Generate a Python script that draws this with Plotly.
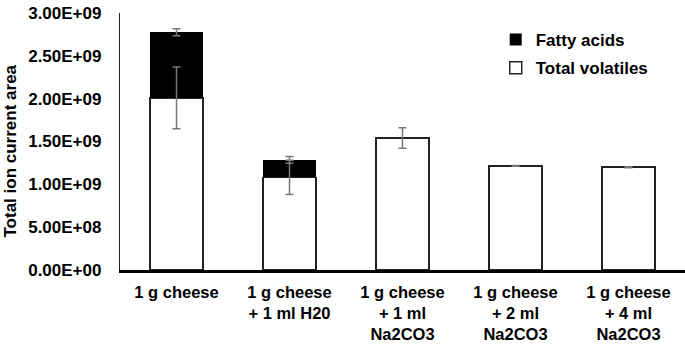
import plotly.graph_objects as go

categories = ["1 g cheese", "1 g cheese<br>+ 1 ml H20", "1 g cheese<br>+ 1 ml<br>Na2CO3",
              "1 g cheese<br>+ 2 ml<br>Na2CO3", "1 g cheese<br>+ 4 ml<br>Na2CO3"]
total_volatiles = [2.01e9, 1.08e9, 1.54e9, 1.215e9, 1.20e9]
total_volatiles_err = [0.36e9, 0.20e9, 0.12e9, 0.004e9, 0.006e9]
fatty_acids = [0.765e9, 0.205e9, 0, 0, 0]
fatty_acids_err = [0.04e9, 0.04e9, None, None, None]
tick_vals = [0, 5e8, 1e9, 1.5e9, 2e9, 2.5e9, 3e9]
tick_text = ["0.00E+00", "5.00E+08", "1.00E+09", "1.50E+09", "2.00E+09", "2.50E+09", "3.00E+09"]

FONT = "Liberation Sans, Arial, sans-serif"
idx = list(range(len(categories)))

fig = go.Figure()
fig.add_trace(go.Bar(
    x=idx, y=total_volatiles, name="Total volatiles", legendgroup="tv", legendrank=2,
    marker=dict(color="white", line=dict(color="#222222", width=1.5)),
))
fig.add_trace(go.Bar(
    x=idx, y=fatty_acids, name="Fatty acids", legendgroup="fa", legendrank=1,
    marker=dict(color="black", line=dict(color="black", width=0)),
))
# error bars drawn on top of the stacked bars
fig.add_trace(go.Scatter(
    x=idx, y=total_volatiles, mode="markers", marker=dict(size=0.1, opacity=0),
    error_y=dict(type="data", array=total_volatiles_err, color="#777777", thickness=1.5, width=4),
    showlegend=False, hoverinfo="skip",
))
fatty_top = [v + f if e is not None else None
             for v, f, e in zip(total_volatiles, fatty_acids, fatty_acids_err)]
fig.add_trace(go.Scatter(
    x=idx, y=fatty_top, mode="markers", marker=dict(size=0.1, opacity=0),
    error_y=dict(type="data", array=[e if e is not None else 0 for e in fatty_acids_err],
                 color="#777777", thickness=1.5, width=4),
    showlegend=False, hoverinfo="skip",
))

W, H = 685, 347
L, T, B = 120, 13, 77
PW, PH = W - L, H - T - B

fig.update_layout(
    width=W, height=H,
    margin=dict(l=L, r=0, t=T, b=B),
    barmode="stack", bargap=0.53,
    plot_bgcolor="white", paper_bgcolor="white",
    font=dict(family=FONT, size=16, color="black", weight="bold"),
    showlegend=True,
    legend=dict(x=0.665, y=1.0 - 9 / PH, xanchor="left", yanchor="top",
                traceorder="grouped", tracegroupgap=3,
                font=dict(size=17, weight="bold"),
                bgcolor="rgba(0,0,0,0)", itemwidth=30),
    xaxis=dict(range=[-0.5, 4.5], tickmode="array", tickvals=idx, ticktext=categories,
               showline=True, linecolor="black", linewidth=2.5, ticks="", automargin=False,
               showgrid=False, zeroline=False, ticklabelstandoff=5,
               tickfont=dict(size=16.5, weight="bold")),
    yaxis=dict(range=[0, 3e9], tickmode="array", tickvals=tick_vals, ticktext=tick_text,
               showline=True, linecolor="#222222", linewidth=1.3, ticks="", automargin=False,
               showgrid=False, zeroline=False, ticklabelstandoff=14,
               tickfont=dict(size=17, weight="bold")),
    annotations=[dict(text="Total ion current area", textangle=-90, xref="paper", yref="paper",
                      x=(10 - L) / PW, y=(PH - (151.5 - T)) / PH, xanchor="center", yanchor="middle",
                      showarrow=False, font=dict(size=17, weight="bold"))],
)

fig.write_html("out.html", config={"displayModeBar": False},
               post_script="document.body.style.margin='0';")
